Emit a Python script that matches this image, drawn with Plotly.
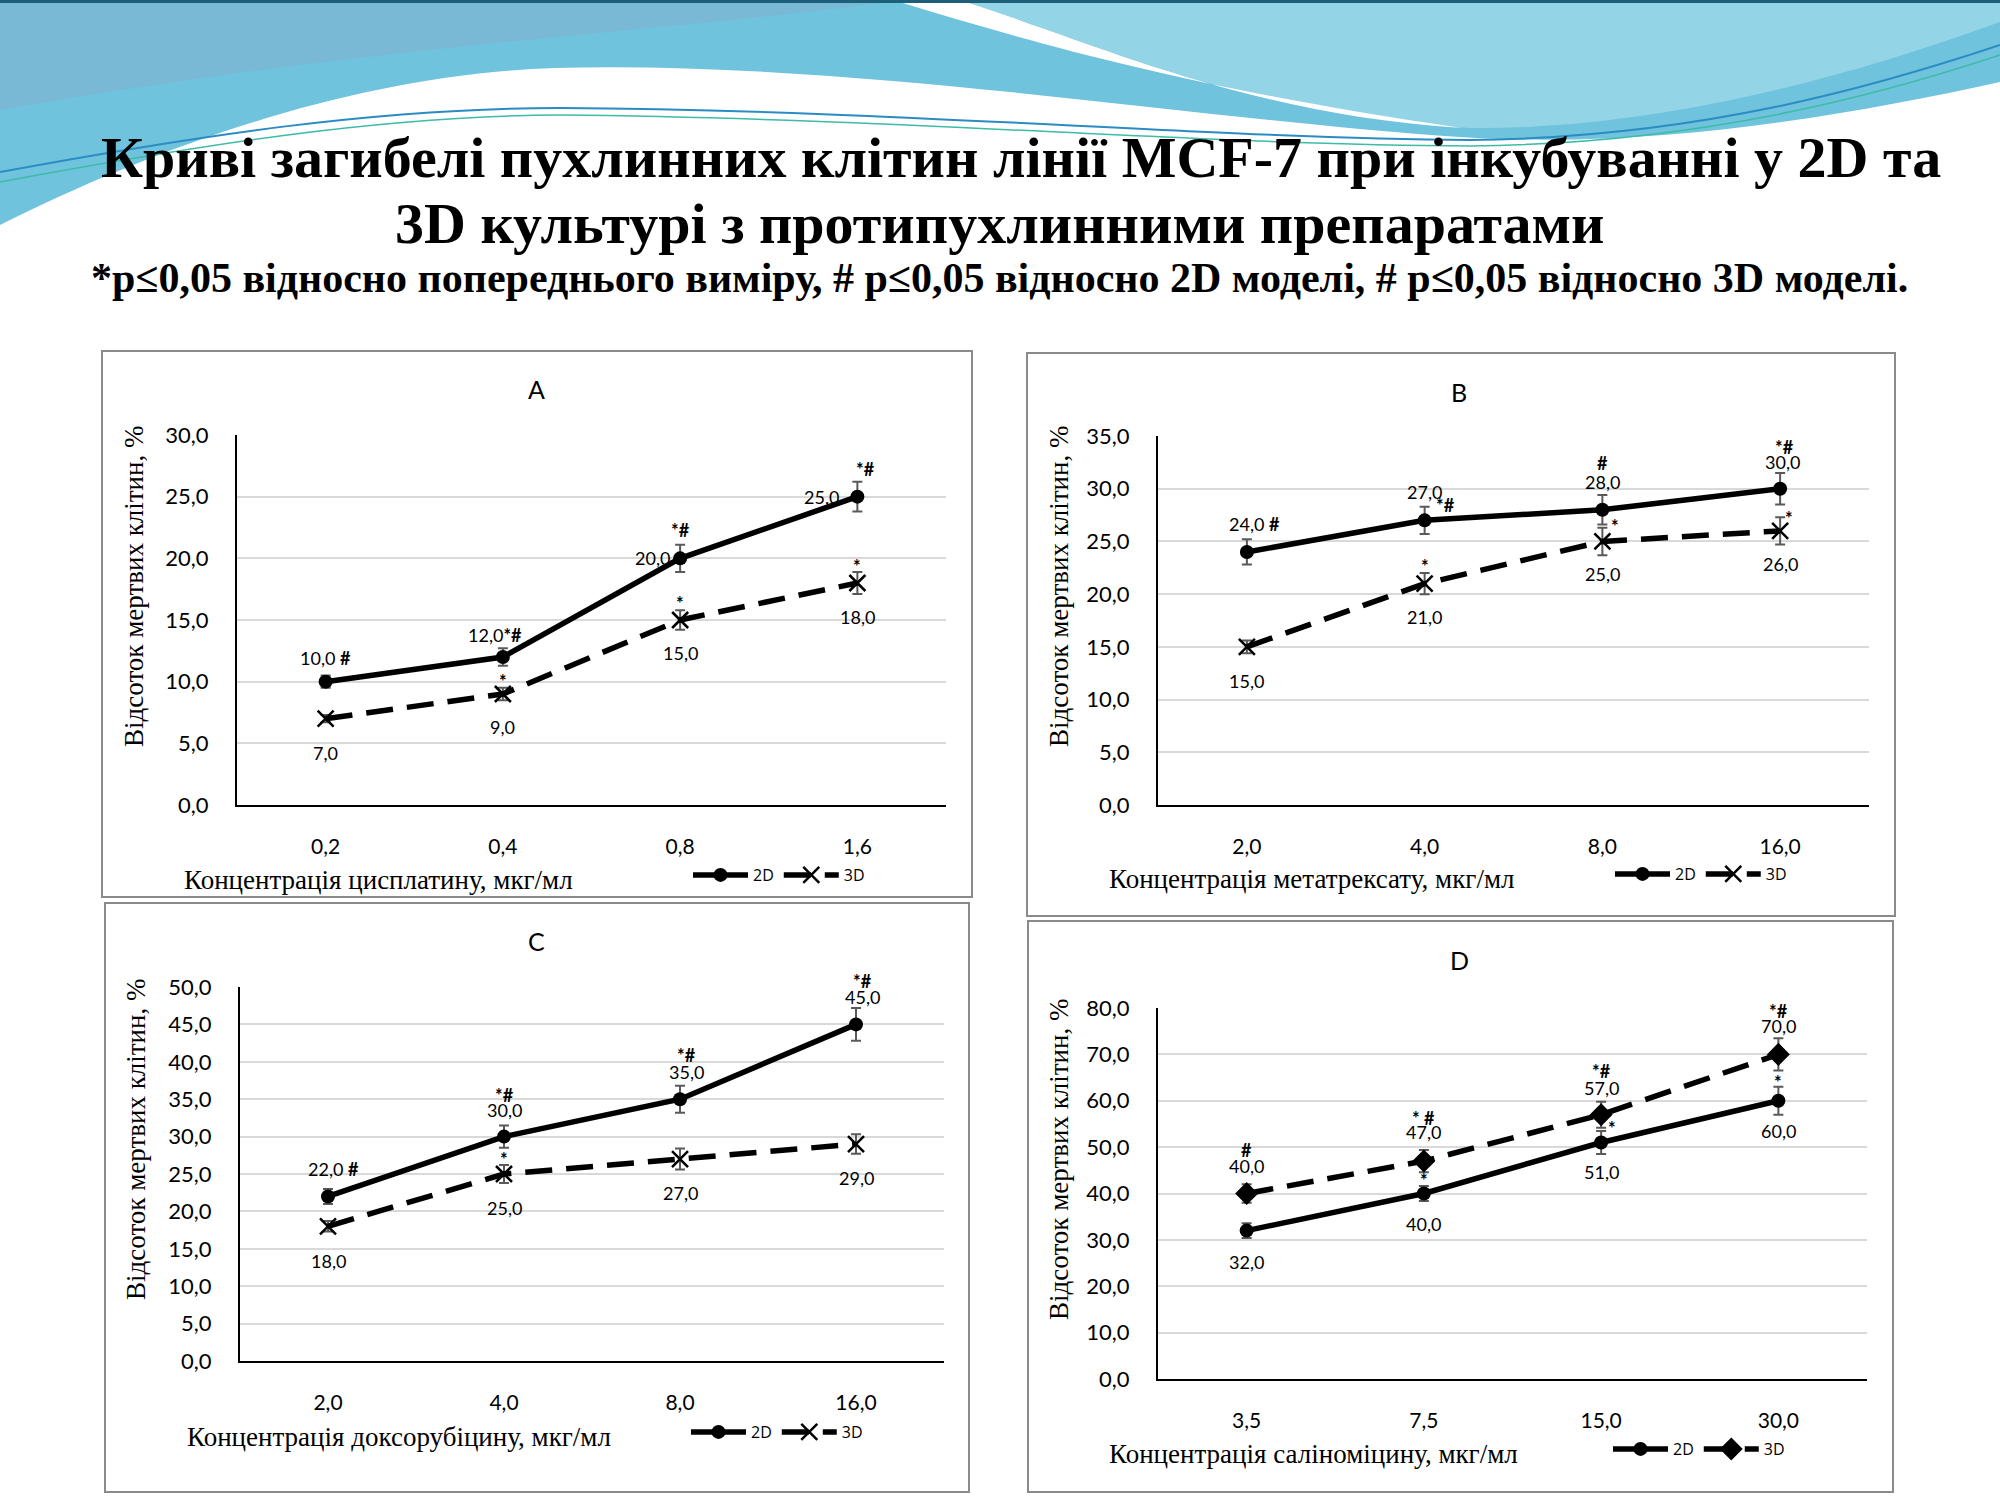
import plotly.graph_objects as go

# ---------------- DATA ----------------
panel_titles = ["A", "B", "C", "D"]

x_labels_A = ["0,2", "0,4", "0,8", "1,6"]
x_labels_B = ["2,0", "4,0", "8,0", "16,0"]
x_labels_C = ["2,0", "4,0", "8,0", "16,0"]
x_labels_D = ["3,5", "7,5", "15,0", "30,0"]

x_titles = ["Концентрація цисплатину, мкг/мл",
            "Концентрація метатрексату, мкг/мл",
            "Концентрація доксорубіцину, мкг/мл",
            "Концентрація саліноміцину, мкг/мл"]
y_title = "Відсоток мертвих клітин, %"

series_names = ["2D", "3D"]

values_2d_A = [10.0, 12.0, 20.0, 25.0]
values_3d_A = [7.0, 9.0, 15.0, 18.0]
err_2d_A = [0.5, 0.7, 1.1, 1.2]
err_3d_A = [0.3, 0.5, 0.8, 0.9]
sig_2d_A = ["#", "*#", "*#", "*#"]
sig_3d_A = ["", "*", "*", "*"]

values_2d_B = [24.0, 27.0, 28.0, 30.0]
values_3d_B = [15.0, 21.0, 25.0, 26.0]
err_2d_B = [1.2, 1.3, 1.4, 1.5]
err_3d_B = [0.6, 1.0, 1.3, 1.3]
sig_2d_B = ["#", "*#", "#", "*#"]
sig_3d_B = ["", "*", "*", "*"]

values_2d_C = [22.0, 30.0, 35.0, 45.0]
values_3d_C = [18.0, 25.0, 27.0, 29.0]
err_2d_C = [1.0, 1.5, 1.8, 2.2]
err_3d_C = [0.7, 1.2, 1.4, 1.3]
sig_2d_C = ["#", "*#", "*#", "*#"]
sig_3d_C = ["", "*", "", ""]

values_2d_D = [32.0, 40.0, 51.0, 60.0]
values_3d_D = [40.0, 47.0, 57.0, 70.0]
err_2d_D = [1.6, 1.6, 2.5, 3.0]
err_3d_D = [2.0, 2.4, 2.8, 3.5]
sig_2d_D = ["", "*", "*", "*"]
sig_3d_D = ["#", "* #", "*#", "*#"]

y_max = [30, 35, 50, 80]
y_dtick = [5, 5, 5, 10]

# ---------------- LAYOUT / STYLE ----------------
W, H = 2000, 1500
SERIF = "Liberation Serif"
SANS = "Lato"
LEG = "Open Sans"


def px(x, y):
    return f"{x / W:.4f},{1 - y / H:.4f}"


def pxx(x):
    return x / W


def pxy(y):
    return 1 - y / H


def note(text, x, y, size, family=SERIF, angle=0, xanchor="center"):
    return dict(text=text, xref="paper", yref="paper", x=pxx(x), y=pxy(y),
                xanchor=xanchor, yanchor="middle", textangle=angle,
                showarrow=False, font=dict(family=family, size=size, color="black"))


# plot areas in pixel coords (left, right, top, bottom)
areas = [(237, 946, 435, 805), (1158, 1869, 436, 805),
         (240, 944, 987, 1361), (1158, 1867, 1008, 1379)]
boxes = [(102, 972, 351, 897), (1027, 1895, 353, 916),
         (105, 969, 903, 1492), (1028, 1893, 921, 1492)]
title_pos = [(536, 389), (1459, 392), (536, 941), (1459, 960)]
xt_pos = [(182, 880), (1107, 879), (185, 1437), (1107, 1454)]
yt_pos = [(134, 587), (1059, 587), (136, 1140), (1059, 1160)]
leg_pos = [(688, 875), (1610, 874), (686, 1432), (1608, 1449)]

# label placement: per point -> (label dx, dy, inline?, sig dx, dy)
place_2d = [
    [(0, 24, True, 0, 0), (-8, 22, True, 0, 0), (-28, 0, False, 0, 28), (-36, 0, False, 8, 28)],
    [(8, 28, True, 0, 0), (0, 28, False, 21, 15), (0, 28, False, 0, 47), (2, 27, False, 4, 42)],
    [(5, 27, True, 0, 0), (0, 27, False, 0, 42), (6, 27, False, 6, 44), (6, 27, False, 6, 43)],
    [(0, -31, False, 0, 0), (0, -30, False, 0, 18), (0, -30, False, 11, 18), (0, -30, False, 0, 23)],
]
place_3d = [
    [(0, -34, False, 0, 0), (0, -33, False, 0, 17), (0, -33, False, 0, 21), (0, -34, False, 0, 21)],
    [(0, -34, False, 0, 0), (0, -33, False, 0, 22), (0, -33, False, 13, 19), (0, -33, False, 9, 17)],
    [(0, -35, False, 0, 0), (0, -34, False, 0, 19), (0, -34, False, 0, 0), (0, -34, False, 0, 0)],
    [(0, 28, False, 0, 44), (0, 29, False, 0, 43), (0, 27, False, 0, 44), (0, 28, False, 0, 43)],
]

panels = [
    (x_labels_A, values_2d_A, err_2d_A, sig_2d_A, values_3d_A, err_3d_A, sig_3d_A),
    (x_labels_B, values_2d_B, err_2d_B, sig_2d_B, values_3d_B, err_3d_B, sig_3d_B),
    (x_labels_C, values_2d_C, err_2d_C, sig_2d_C, values_3d_C, err_3d_C, sig_3d_C),
    (x_labels_D, values_2d_D, err_2d_D, sig_2d_D, values_3d_D, err_3d_D, sig_3d_D),
]

fig = go.Figure()
annotations = []
shapes = []

# ---- decorative slide background ----
shapes.append(dict(type="path", xref="paper", yref="paper", layer="below",
                   path=f"M {px(0,0)} L {px(2000,0)} L {px(2000,82)} "
                        f"C {px(1850,115)} {px(1650,150)} {px(1460,137)} "
                        f"C {px(1200,120)} {px(850,60)} {px(555,68)} "
                        f"C {px(350,75)} {px(150,150)} {px(0,225)} Z",
                   fillcolor="#6fc3dc", line=dict(width=0)))
shapes.append(dict(type="path", xref="paper", yref="paper", layer="below",
                   path=f"M {px(0,0)} L {px(900,0)} C {px(700,30)} {px(400,40)} {px(0,110)} Z",
                   fillcolor="#79b9d6", line=dict(width=0)))
shapes.append(dict(type="path", xref="paper", yref="paper", layer="below",
                   path=f"M {px(960,0)} L {px(2000,0)} L {px(2000,22)} "
                        f"C {px(1800,95)} {px(1620,130)} {px(1470,128)} "
                        f"C {px(1250,115)} {px(1100,45)} {px(960,0)} Z",
                   fillcolor="#93d4e6", line=dict(width=0)))
shapes.append(dict(type="path", xref="paper", yref="paper", layer="below",
                   path=f"M {px(893,0)} L {px(960,0)} "
                        f"C {px(1100,45)} {px(1250,115)} {px(1462,128)} "
                        f"C {px(1200,90)} {px(1040,45)} {px(893,0)} Z",
                   fillcolor="#ffffff", line=dict(width=0)))
shapes.append(dict(type="path", xref="paper", yref="paper", layer="below",
                   path=f"M {px(0,172)} C {px(200,135)} {px(380,108)} {px(560,108)} "
                        f"C {px(900,110)} {px(1200,138)} {px(1470,140)} "
                        f"C {px(1700,138)} {px(1880,85)} {px(2000,45)}",
                   line=dict(color="#2b8cc4", width=2)))
shapes.append(dict(type="path", xref="paper", yref="paper", layer="below",
                   path=f"M {px(0,182)} C {px(200,145)} {px(380,116)} {px(560,115)} "
                        f"C {px(900,118)} {px(1200,145)} {px(1470,146)} "
                        f"C {px(1700,144)} {px(1880,95)} {px(2000,55)}",
                   line=dict(color="#3cbca6", width=1.5)))
shapes.append(dict(type="line", xref="paper", yref="paper", layer="below",
                   x0=0, x1=1, y0=pxy(1.5), y1=pxy(1.5),
                   line=dict(color="#1d5f78", width=3)))

# ---- title texts ----
annotations.append(note("<b>Криві загибелі пухлинних клітин лінії MCF-7 при інкубуванні у 2D та</b>",
                        1021, 157, 58))
annotations.append(note("<b>3D культурі з протипухлинними препаратами</b>", 1000, 223, 58))
annotations.append(note("<b>*p≤0,05 відносно попереднього виміру, # p≤0,05 відносно 2D моделі, # p≤0,05 відносно 3D моделі.</b>",
                        999, 278, 42))

layout_axes = {}
for i, (cats, v2, e2, s2, v3, e3, s3) in enumerate(panels):
    n = i + 1
    xa = "x" if n == 1 else f"x{n}"
    ya = "y" if n == 1 else f"y{n}"
    xkey = "xaxis" if n == 1 else f"xaxis{n}"
    ykey = "yaxis" if n == 1 else f"yaxis{n}"
    lkey = "legend" if n == 1 else f"legend{n}"
    l, r, t, b = areas[i]

    # panel box
    bl, br, bt, bb = boxes[i]
    shapes.append(dict(type="rect", xref="paper", yref="paper", layer="below",
                       x0=pxx(bl), x1=pxx(br), y0=pxy(bb), y1=pxy(bt),
                       fillcolor="white", line=dict(color="#8a8a8a", width=2)))

    sym3 = "diamond" if i == 3 else "x-thin"
    fig.add_trace(go.Scatter(
        x=cats, y=v2, name=series_names[0], mode="lines+markers",
        xaxis=xa, yaxis=ya, legend=lkey,
        line=dict(color="black", width=5.5),
        marker=dict(symbol="circle", size=14, color="black"),
        error_y=dict(type="data", array=e2, color="#595959", thickness=2, width=5),
    ))
    fig.add_trace(go.Scatter(
        x=cats, y=v3, name=series_names[1], mode="lines+markers",
        xaxis=xa, yaxis=ya, legend=lkey,
        line=dict(color="black", width=5.5, dash="27px,14px"),
        marker=dict(symbol=sym3, size=16 if i < 3 else 15, color="black",
                    line=dict(color="black", width=2.5)),
        error_y=dict(type="data", array=e3, color="#595959", thickness=2, width=5),
    ))

    layout_axes[xkey] = dict(domain=[pxx(l), pxx(r)], anchor=ya, type="category",
                             categoryorder="array", categoryarray=cats,
                             range=[-0.5, 3.5], showline=True, linecolor="black",
                             linewidth=2, showgrid=False, ticks="", zeroline=False,
                             automargin=False, ticklabelstandoff=22,
                             tickfont=dict(family=SANS, size=21, color="black"))
    layout_axes[ykey] = dict(domain=[pxy(b), pxy(t)], anchor=xa,
                             range=[0, y_max[i]], dtick=y_dtick[i], tickformat=".1f",
                             showline=True, linecolor="black", linewidth=2,
                             showgrid=True, gridcolor="#d9d9d9", gridwidth=2,
                             zeroline=False, ticks="", ticklabelstandoff=22,
                             automargin=False,
                             tickfont=dict(family=SANS, size=22, color="black"))
    lx, ly = leg_pos[i]
    layout_axes[lkey] = dict(orientation="h", x=pxx(lx), y=pxy(ly), xanchor="left",
                             yanchor="middle", bgcolor="rgba(0,0,0,0)",
                             font=dict(family=LEG, size=16, color="black"),
                             itemwidth=55, tracegroupgap=0)

    tx, ty = title_pos[i]
    annotations.append(note(panel_titles[i], tx, ty, 25, family=SANS))
    ax_, ay_ = xt_pos[i]
    annotations.append(note(x_titles[i], ax_, ay_, 27, xanchor="left"))
    yx, yy = yt_pos[i]
    annotations.append(note(y_title, yx, yy, 27, angle=-90))

    # data labels
    for vals, sigs, plc in ((v2, s2, place_2d[i]), (v3, s3, place_3d[i])):
        for j, (c, v) in enumerate(zip(cats, vals)):
            ldx, ldy, inline, sdx, sdy = plc[j]
            lab = f"{v:.1f}".replace(".", ",")
            sg = sigs[j]
            if inline and sg:
                txt = lab + ("" if sg.startswith("*") else " ") + f"<b>{sg}</b>"
                annotations.append(dict(text=txt, xref=xa, yref=ya, x=c, y=v,
                                        xanchor="center", yanchor="middle",
                                        xshift=ldx, yshift=ldy, showarrow=False,
                                        font=dict(family=SANS, size=18, color="black")))
            else:
                annotations.append(dict(text=lab, xref=xa, yref=ya, x=c, y=v,
                                        xanchor="center", yanchor="middle",
                                        xshift=ldx, yshift=ldy, showarrow=False,
                                        font=dict(family=SANS, size=18, color="black")))
                if sg:
                    adj = -4 if sg == "*" else 0
                    annotations.append(dict(text=f"<b>{sg}</b>", xref=xa, yref=ya, x=c, y=v,
                                            xanchor="center", yanchor="middle",
                                            xshift=sdx, yshift=sdy + adj, showarrow=False,
                                            font=dict(family=SANS, size=18, color="black")))

fig.update_layout(
    template="none",
    width=W, height=H, margin=dict(l=0, r=0, t=0, b=0, pad=0, autoexpand=False),
    paper_bgcolor="white", plot_bgcolor="rgba(0,0,0,0)",
    separators=", ", showlegend=True,
    annotations=annotations, shapes=shapes,
    **layout_axes,
)

fig.write_html("out.html", config={"displayModeBar": False},
               post_script="document.body.style.margin='0';document.body.style.overflow='hidden';")
